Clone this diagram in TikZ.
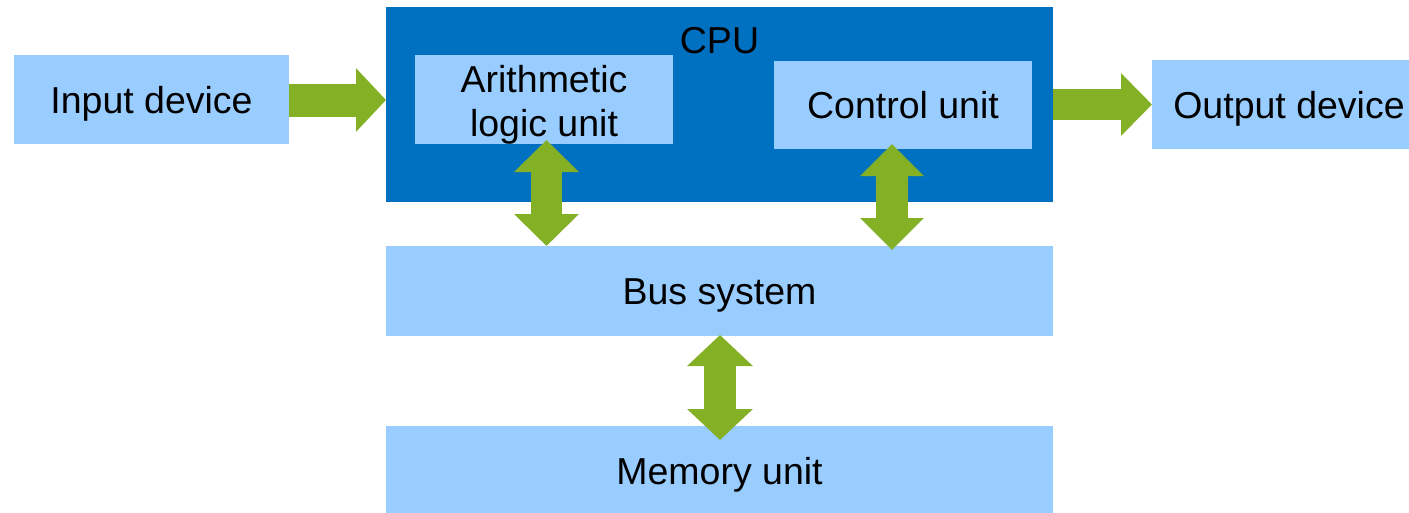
\documentclass[tikz,border=0pt]{standalone}
\usepackage{fontspec}
\setmainfont{Liberation Sans}
\usetikzlibrary{arrows.meta}
\definecolor{lightbox}{HTML}{99CCFF}
\definecolor{cpublue}{HTML}{0070C0}
\definecolor{arrowgreen}{HTML}{84B026}
\begin{document}
\begin{tikzpicture}[x=1pt,y=-1pt,
  box/.style={rectangle,fill=lightbox,draw=none,inner sep=0pt,outer sep=0pt,
    font=\fontsize{37.5pt}{44pt}\selectfont,text height=27pt,text depth=0pt},
  bigarrow/.style={draw=arrowgreen,line width=#1,line cap=butt},
  hd/.style={Triangle[length=#1]},
]
\useasboundingbox (0,0) rectangle (1409,512);
\clip (0,0) rectangle (1409,512);
% boxes
\node[box,minimum width=275pt,minimum height=89pt] (inp) at (151.5,99.5) {Input device};
\node[rectangle,fill=cpublue,inner sep=0pt,outer sep=0pt,minimum width=667pt,minimum height=195pt] (cpu) at (719.5,104.5) {};
\node[anchor=base,inner sep=0pt,font=\fontsize{37.5pt}{44pt}\selectfont] (cpulabel) at (719.5,53) {CPU};
\node[rectangle,fill=lightbox,inner sep=0pt,outer sep=0pt,minimum width=258pt,minimum height=89pt] (alu) at (544,99.5) {};
\node[inner sep=0pt,align=center,font=\fontsize{37.5pt}{44pt}\selectfont] (alulabel) at (544,105) {Arithmetic\\logic unit};
\node[box,minimum width=258pt,minimum height=88pt] (cu) at (903,105) {Control unit};
\node[box,minimum width=274pt,minimum height=89pt] (out) at (1289,104.5) {Output device};
\node[box,minimum width=667pt,minimum height=90pt] (bus) at (719.5,291) {Bus system};
\node[box,minimum width=667pt,minimum height=90pt] (mem) at (719.5,471) {Memory unit};
% arrow end points
\coordinate (a1t) at (546.5,140);
\coordinate (a1b) at (546.5,246);
\coordinate (a2t) at (892,144);
\coordinate (a2b) at (892,250);
\coordinate (a3t) at (720,335);
\coordinate (a3b) at (720,440);
% arrows
\draw[draw=arrowgreen,line width=33pt,-{Triangle[length=30pt,width=62pt]}] (inp.east |- 0,100) -- (cpu.west |- 0,100);
\draw[draw=arrowgreen,line width=31pt,-{Triangle[length=31pt,width=61pt]}] (cpu.east |- 0,104.5) -- (out.west |- 0,104.5);
\draw[draw=arrowgreen,line width=31pt,{Triangle[length=32pt,width=63pt]}-{Triangle[length=32pt,width=63pt]}] (a1t) -- (a1b);
\draw[draw=arrowgreen,line width=32pt,{Triangle[length=32pt,width=62pt]}-{Triangle[length=32pt,width=62pt]}] (a2t) -- (a2b);
\draw[draw=arrowgreen,line width=32pt,{Triangle[length=31pt,width=64pt]}-{Triangle[length=31pt,width=64pt]}] (a3t) -- (a3b);
\end{tikzpicture}
\end{document}
